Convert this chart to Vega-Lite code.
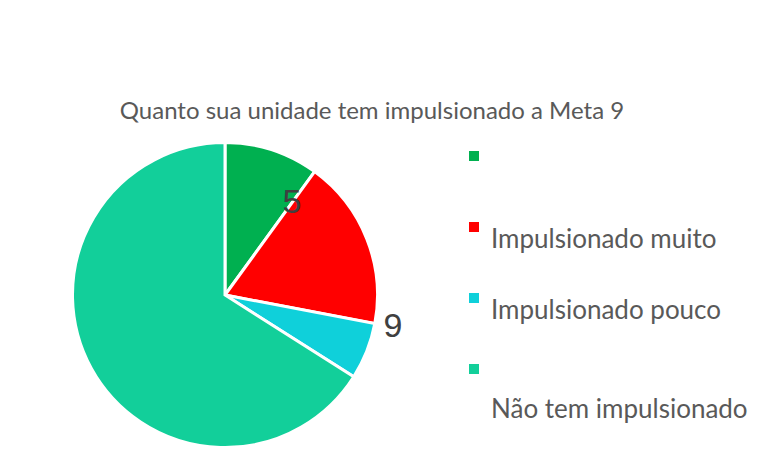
{
  "$schema": "https://vega.github.io/schema/vega-lite/v6.json",
  "width": 305,
  "height": 305,
  "autosize": {"type": "none"},
  "padding": {"left": 72.5, "top": 142.5, "right": 379.5, "bottom": 7.5},
  "background": "white",
  "config": {"view": {"stroke": null}},
  "title": {
    "text": "Quanto sua unidade tem impulsionado a Meta 9",
    "font": "Lato",
    "fontSize": 24,
    "fontWeight": "normal",
    "color": "#595959",
    "anchor": "middle",
    "frame": "group",
    "dx": 147,
    "offset": 13
  },
  "data": {
    "values": [
      {"categoria": "", "valor": 5},
      {"categoria": "Impulsionado muito", "valor": 9},
      {"categoria": "Impulsionado pouco", "valor": 3},
      {"categoria": "Não tem impulsionado", "valor": 33}
    ]
  },
  "layer": [
    {
      "mark": {"type": "arc", "outerRadius": 152.5, "stroke": "white", "strokeWidth": 3},
      "encoding": {
        "theta": {"field": "valor", "type": "quantitative", "stack": true},
        "color": {
          "field": "categoria",
          "type": "nominal",
          "scale": {
            "domain": ["", "Impulsionado muito", "Impulsionado pouco", "Não tem impulsionado"],
            "range": ["#00B050", "#FF0000", "#0FD0DA", "#12CF9A"]
          },
          "legend": {
            "orient": "none",
            "legendX": 388.5,
            "legendY": 0.5,
            "title": null,
            "symbolType": "square",
            "symbolSize": 100,
            "symbolStrokeWidth": 0,
            "labelBaseline": "top",
            "labelFont": "Lato",
            "labelFontSize": 26,
            "labelColor": "#595959",
            "labelOffset": 4,
            "labelLimit": 400,
            "labelExpr": "datum.label === 'Não tem impulsionado' ? ['', datum.label] : datum.label",
            "rowPadding": 32
          }
        }
      }
    },
    {
      "transform": [
        {"window": [{"op": "sum", "field": "valor", "as": "acumulado"}], "sort": [{"field": "categoria", "order": "ascending"}]},
        {"filter": "datum.categoria === ''"}
      ],
      "mark": {"type": "text", "radius": 114, "font": "Liberation Sans", "fontSize": 34, "color": "#404040", "baseline": "middle", "align": "center"},
      "encoding": {
        "theta": {"field": "acumulado", "type": "quantitative", "stack": null},
        "text": {"field": "valor", "type": "quantitative"}
      }
    },
    {
      "transform": [
        {"window": [{"op": "sum", "field": "valor", "as": "acumulado"}], "sort": [{"field": "categoria", "order": "ascending"}]},
        {"filter": "datum.categoria === 'Impulsionado muito'"}
      ],
      "mark": {"type": "text", "radius": 171, "font": "Liberation Sans", "fontSize": 34, "color": "#404040", "baseline": "middle", "align": "center"},
      "encoding": {
        "theta": {"field": "acumulado", "type": "quantitative", "stack": null},
        "text": {"field": "valor", "type": "quantitative"}
      }
    }
  ]
}
